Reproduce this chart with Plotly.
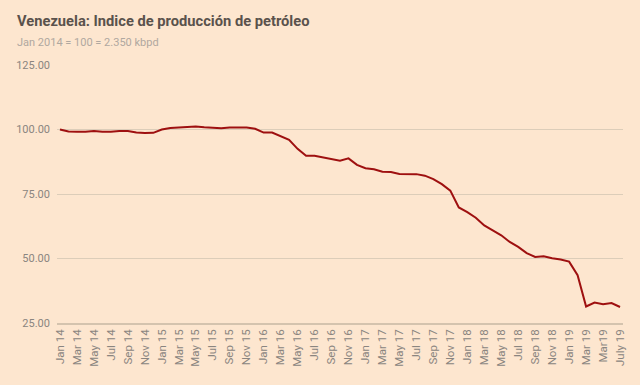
import plotly.graph_objects as go

months = ["Jan","Feb","Mar","Apr","May","Jun","Jul","Aug","Sep","Oct","Nov","Dec"]
dates = [f"{months[i % 12]} {14 + i // 12}" for i in range(67)]

values = [
    100.0, 99.2, 99.1, 99.1, 99.4, 99.1, 99.1, 99.4, 99.4, 98.8, 98.6, 98.7,   # 2014
    100.0, 100.6, 100.8, 101.0, 101.2, 100.9, 100.8, 100.5, 100.8, 100.8, 100.8, 100.3,  # 2015
    98.8, 98.8, 97.3, 96.0, 92.5, 89.8, 89.8, 89.2, 88.7, 87.9, 88.8, 86.3,  # 2016
    85.0, 84.6, 83.6, 83.5, 82.8, 82.8, 82.7, 82.1, 80.8, 78.8, 76.3, 69.8,  # 2017
    68.0, 65.8, 62.8, 60.9, 59.0, 56.4, 54.5, 52.1, 50.6, 50.9, 50.1, 49.6,  # 2018
    48.8, 43.5, 31.4, 32.9, 32.3, 32.7, 31.2,  # 2019
]

tick_idx = list(range(0, 67, 2))
tick_text = [dates[i] for i in tick_idx]
tick_text[-2] = "Mar19"
tick_text[-1] = "July 19"

bg = "#fde6cf"
grid = "#dccdb9"

fig = go.Figure()
fig.add_trace(go.Scatter(
    x=list(range(67)), y=values, mode="lines",
    line=dict(color="#9e1010", width=2),
    hoverinfo="skip",
))

fig.update_layout(
    width=640, height=385,
    paper_bgcolor=bg, plot_bgcolor=bg,
    margin=dict(l=49, r=25, t=57, b=70),
    showlegend=False,
    font=dict(family="Roboto", color="#8a8580", size=11),
    annotations=[
        dict(text="<b>Venezuela: Indice de producción de petróleo</b>",
             xref="paper", yref="paper", x=-0.075, y=1.0, xanchor="left", yanchor="bottom",
             yshift=33, showarrow=False, font=dict(size=14.7, color="#5a524c", family="Roboto")),
        dict(text="Jan 2014 = 100 = 2.350 kbpd",
             xref="paper", yref="paper", x=-0.075, y=1.0, xanchor="left", yanchor="bottom",
             yshift=14, showarrow=False, font=dict(size=11, color="#b0a8a0", family="Roboto")),
    ],
)
fig.update_xaxes(
    range=[-0.35, 66.35], tickvals=tick_idx, ticktext=tick_text,
    tickangle=-90, showgrid=False, zeroline=False, automargin=False,
    showline=True, linecolor="#d4c3ae", linewidth=1.5,
    ticks="", tickfont=dict(size=11.5, color="#8a8580"),
)
fig.update_yaxes(
    range=[25, 125], tickvals=[25, 50, 75, 100, 125],
    ticktext=["25.00", "50.00", "75.00", "100.00", "125.00"],
    showgrid=True, gridcolor=grid, gridwidth=1, zeroline=False, automargin=False,
    ticks="", ticklabelstandoff=6, tickfont=dict(size=11, color="#8a8580"),
)

fig.write_html("out.html", post_script="document.body.style.background='#fde6cf';")
